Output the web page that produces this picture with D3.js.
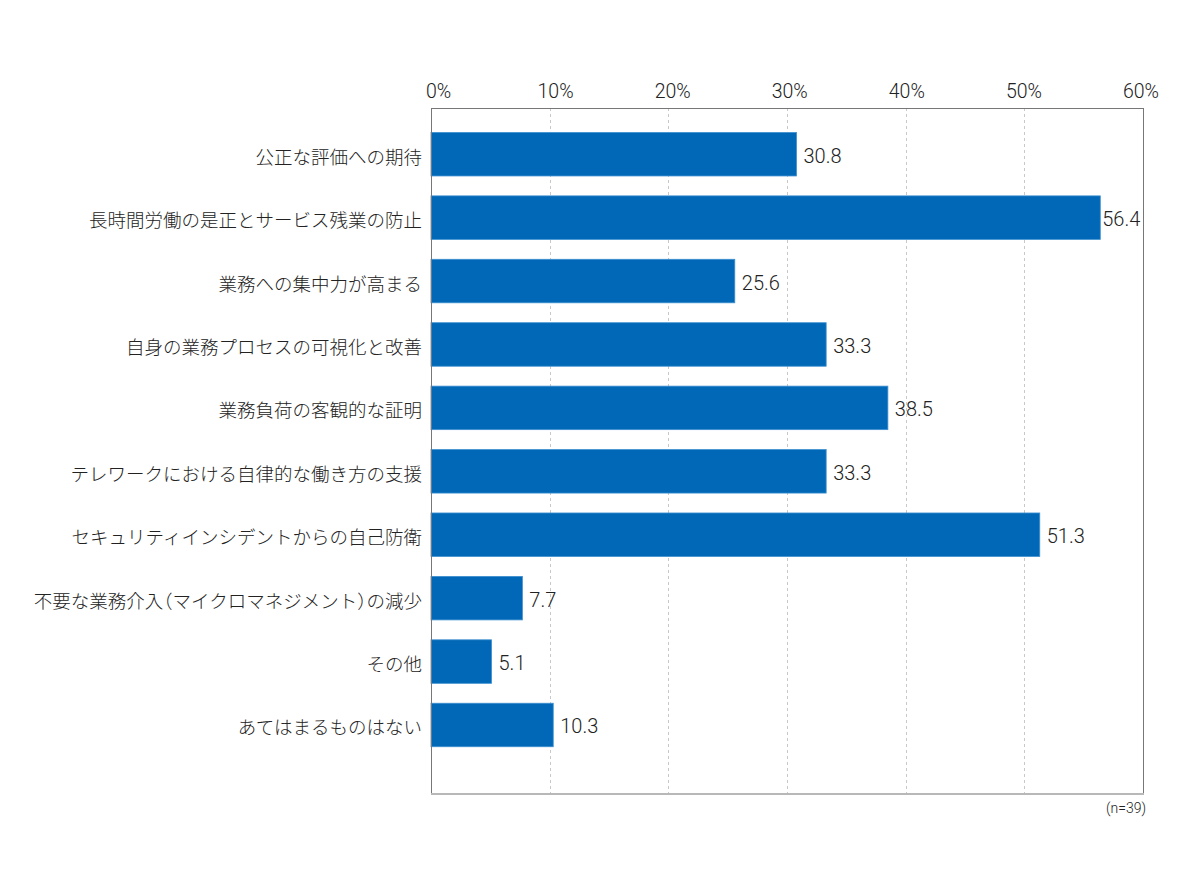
<!DOCTYPE html>
<html>
<head>
<meta charset="utf-8">
<script src="https://cdn.jsdelivr.net/npm/d3@7"></script>
<style>
  html, body { margin: 0; padding: 0; background: #fff; }
  text { font-family: "Noto Sans CJK JP", "Noto Sans", sans-serif; fill: #222; font-weight: 300; }
  .num { font-family: "Roboto", "Noto Sans", sans-serif; font-weight: 300; fill: #222; }
  .cat { font-feature-settings: "halt"; }
</style>
</head>
<body>
<svg id="chart" width="1200" height="871"></svg>
<script>
const categories = [
  "公正な評価への期待",
  "長時間労働の是正とサービス残業の防止",
  "業務への集中力が高まる",
  "自身の業務プロセスの可視化と改善",
  "業務負荷の客観的な証明",
  "テレワークにおける自律的な働き方の支援",
  "セキュリティインシデントからの自己防衛",
  "不要な業務介入（マイクロマネジメント）の減少",
  "その他",
  "あてはまるものはない"
];
const values = [30.8, 56.4, 25.6, 33.3, 38.5, 33.3, 51.3, 7.7, 5.1, 10.3];
const tickValues = [0, 10, 20, 30, 40, 50, 60];
const tickLabels = ["0%", "10%", "20%", "30%", "40%", "50%", "60%"];
const noteText = "(n=39)";

const svg = d3.select("#chart");
const plot = { left: 431, right: 1143, top: 108, bottom: 794 };

const x = d3.scaleLinear().domain([0, 60]).range([plot.left, plot.right]);
const xLabel = d3.scaleLinear().domain([0, 60]).range([438.5, 1141]);
const y = d3.scaleBand().domain(categories).range([122.5, 756.7])
  .paddingInner(0.314).paddingOuter(0.157);

// gridlines
svg.append("g").selectAll("line")
  .data(tickValues.filter(t => t > 0 && t < 60))
  .join("line")
  .attr("x1", d => Math.round(x(d)) + 0.5).attr("x2", d => Math.round(x(d)) + 0.5)
  .attr("y1", plot.top).attr("y2", plot.bottom)
  .attr("stroke", "#c8c8c8").attr("stroke-width", 1)
  .attr("stroke-dasharray", "3,3");

// tick labels (top)
svg.append("g").selectAll("text")
  .data(tickValues)
  .join("text")
  .attr("class", "num")
  .attr("x", d => xLabel(d))
  .attr("y", 98)
  .attr("text-anchor", "middle")
  .attr("font-size", "19.5px")
  .text((d, i) => tickLabels[i]);

// bars
svg.append("g").selectAll("rect")
  .data(values)
  .join("rect")
  .attr("x", x(0))
  .attr("y", (d, i) => y(categories[i]))
  .attr("width", d => x(d) - x(0))
  .attr("height", y.bandwidth())
  .attr("fill", "#0068b7")
  .attr("stroke", "#3d8fd0")
  .attr("stroke-width", 0.8);

// value labels
svg.append("g").selectAll("text")
  .data(values)
  .join("text")
  .attr("class", "num")
  .attr("x", d => x(d) + (x(d) + 50 > plot.right ? 2 : 7))
  .attr("y", (d, i) => y(categories[i]) + y.bandwidth() / 2 + 1.5)
  .attr("dominant-baseline", "central")
  .attr("font-size", "20px")
  .text(d => d.toFixed(1));

// category labels
svg.append("g").selectAll("text")
  .data(categories)
  .join("text")
  .attr("class", "cat")
  .attr("x", 422)
  .attr("y", d => y(d) + y.bandwidth() / 2 + 1.5)
  .attr("text-anchor", "end")
  .attr("dominant-baseline", "central")
  .attr("font-size", "18.5px")
  .text(d => d);

// frame
const frame = svg.append("g");
frame.append("line").attr("x1", plot.left + 0.5).attr("x2", plot.left + 0.5)
  .attr("y1", plot.top).attr("y2", plot.bottom).attr("stroke", "#777");
frame.append("line").attr("x1", plot.left).attr("x2", plot.right)
  .attr("y1", plot.top + 0.5).attr("y2", plot.top + 0.5).attr("stroke", "#777");
frame.append("line").attr("x1", plot.right + 0.5).attr("x2", plot.right + 0.5)
  .attr("y1", plot.top).attr("y2", plot.bottom).attr("stroke", "#777");
frame.append("line").attr("x1", plot.left).attr("x2", plot.right + 1)
  .attr("y1", plot.bottom).attr("y2", plot.bottom).attr("stroke", "#b8b8b8").attr("stroke-width", 2);

// note
svg.append("text")
  .attr("class", "num")
  .attr("x", 1146).attr("y", 813)
  .attr("text-anchor", "end")
  .attr("font-size", "14px")
  .text(noteText);
</script>
</body>
</html>
